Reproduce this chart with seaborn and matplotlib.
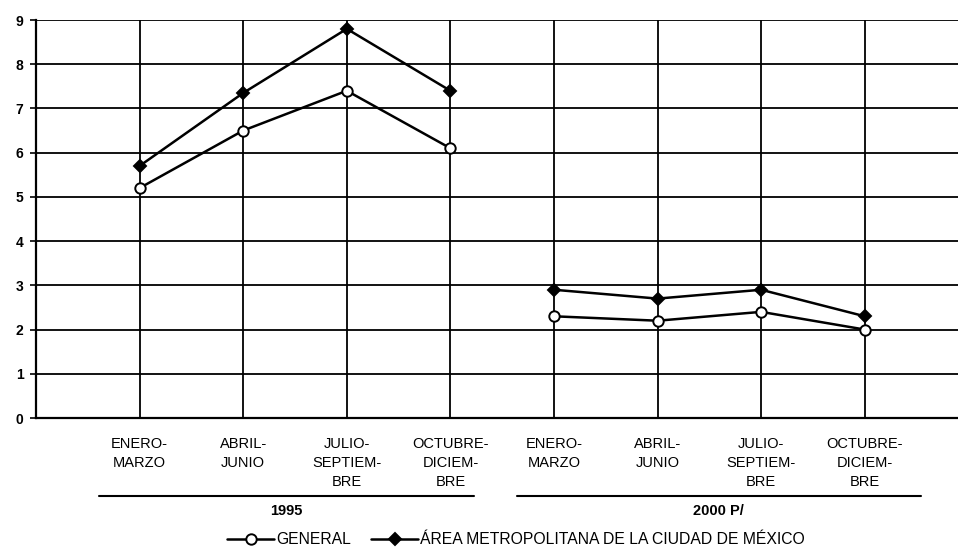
import matplotlib
matplotlib.use('Agg')
import matplotlib.pyplot as plt
import seaborn as sns
import pandas as pd

# datos
trimestres = ['ENERO-\nMARZO', 'ABRIL-\nJUNIO', 'JULIO-\nSEPTIEM-\nBRE', 'OCTUBRE-\nDICIEM-\nBRE']
periodos = ['1995', '2000 P/']
general_1995 = [5.2, 6.5, 7.4, 6.1]
metro_1995 = [5.7, 7.35, 8.8, 7.4]
general_2000 = [2.3, 2.2, 2.4, 2.0]
metro_2000 = [2.9, 2.7, 2.9, 2.3]
yticks = list(range(0, 10))

sns.set_style('white')
plt.rcParams['font.family'] = ['Liberation Sans', 'DejaVu Sans']
plt.rcParams['text.color'] = 'black'
plt.rcParams['xtick.color'] = 'black'
plt.rcParams['ytick.color'] = 'black'

# tabla larga para seaborn
filas = []
for p, gen, met in [(periodos[0], general_1995, metro_1995), (periodos[1], general_2000, metro_2000)]:
    for i in range(4):
        pos = i + (0 if p == periodos[0] else 4)
        filas.append({'pos': pos, 'valor': gen[i], 'serie': 'GENERAL', 'periodo': p})
        filas.append({'pos': pos, 'valor': met[i], 'serie': 'ÁREA METROPOLITANA DE LA CIUDAD DE MÉXICO', 'periodo': p})
df = pd.DataFrame(filas)

fig = plt.figure(figsize=(9.58, 5.48), dpi=100)
ax = fig.add_axes([36 / 958, 130 / 548, 922 / 958, 398 / 548])

estilos = {
    'GENERAL': dict(marker='o', markerfacecolor='white', markersize=7.5),
    'ÁREA METROPOLITANA DE LA CIUDAD DE MÉXICO': dict(marker='D', markerfacecolor='black', markersize=6),
}
for serie, kw in estilos.items():
    for p in periodos:
        sub = df[(df.serie == serie) & (df.periodo == p)]
        sns.lineplot(data=sub, x='pos', y='valor', ax=ax, color='black', linewidth=1.8,
                     markeredgecolor='black', markeredgewidth=1.4, estimator=None,
                     label=serie if p == periodos[0] else None, legend=False, zorder=3, **kw)

ax.set_xlim(-1, 7.9)
ax.set_ylim(0, 9)
ax.set_yticks(yticks)
ax.set_yticklabels([str(v) for v in yticks], fontweight='bold', fontsize=10)
ax.set_xticks(range(8))
ax.set_xticklabels(trimestres * 2, fontsize=10.5, linespacing=1.45, va='top')
ax.tick_params(axis='x', length=0, pad=14)
ax.tick_params(axis='y', length=4, width=1.2, direction='out', pad=5, left=True)
ax.set_xlabel('')
ax.set_ylabel('')
ax.grid(True, color='black', linewidth=1.3)
for lado in ['top', 'right']:
    ax.spines[lado].set_visible(False)
ax.spines['left'].set_linewidth(1.6)
ax.spines['bottom'].set_linewidth(1.6)
ax.spines['left'].set_color('black')
ax.spines['bottom'].set_color('black')

# lineas y etiquetas de los periodos
trans = ax.get_xaxis_transform()
for (x0, x1), p in zip([(-0.39, 3.23), (3.64, 7.54)], periodos):
    ax.plot([x0, x1], [-0.196, -0.196], color='black', linewidth=1.5, transform=trans, clip_on=False)
    ax.text((x0 + x1) / 2, -0.233, p, transform=trans, ha='center', va='center',
            fontsize=10.5, fontweight='bold')

handles, labels = ax.get_legend_handles_labels()
fig.legend(handles, labels, loc='center', bbox_to_anchor=(516 / 958, 8 / 548), ncol=2,
           frameon=False, fontsize=11.3, handlelength=3.0, handletextpad=0.1, columnspacing=1.3)

plt.savefig('out.png', dpi=100)
